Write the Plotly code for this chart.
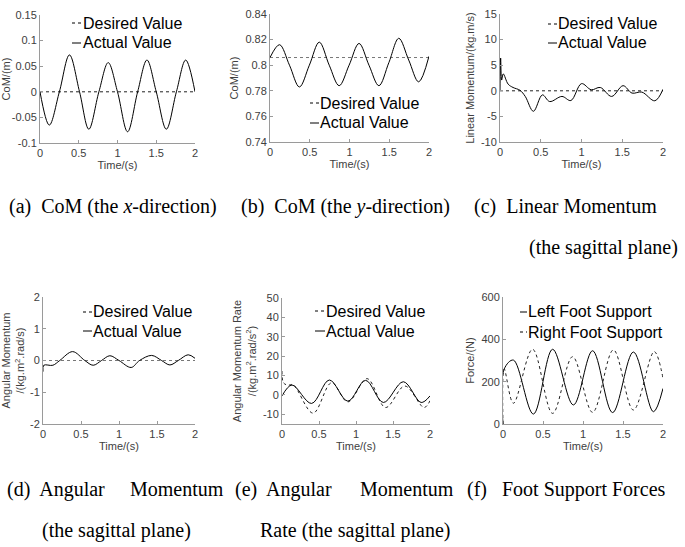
import plotly.graph_objects as go

# ---- data ----
t_a = [0, 0.12, 0.25, 0.38, 0.51, 0.63, 0.76, 0.88, 1.0, 1.13, 1.26, 1.38, 1.5, 1.63, 1.76, 1.88, 2.0]
com_x_actual = [0, -0.065, 0, 0.072, 0, -0.073, 0, 0.057, 0, -0.078, 0, 0.062, 0, -0.073, 0, 0.062, 0]
com_x_desired = [0, 0]

t_b = [0, 0.12, 0.245, 0.37, 0.495, 0.62, 0.745, 0.87, 0.995, 1.12, 1.245, 1.37, 1.495, 1.62, 1.745, 1.87, 2.0]
com_y_actual = [0.806, 0.816, 0.8, 0.783, 0.8, 0.818, 0.8, 0.784, 0.8, 0.817, 0.8, 0.784, 0.802, 0.821, 0.804, 0.787, 0.807]
com_y_desired = [0.806, 0.806]

t_c = [0, 0.008, 0.02, 0.04, 0.10, 0.16, 0.245, 0.31, 0.41, 0.52, 0.61, 0.76, 0.87, 1.0, 1.12, 1.23,
       1.37, 1.51, 1.62, 1.74, 1.90, 2.0]
lin_mom_actual = [0, 6.4, 2.1, 3.3, 1.3, 0.65, 0.1, -1.1, -4.0, -0.8, -2.1, -1.1, -1.9, 1.4, 0.2, 0.65,
                  -1.1, 1.0, -0.45, -0.25, -1.95, 0.3]
lin_mom_desired = [0, 0]

t_d = [0, 0.01, 0.13, 0.22, 0.39, 0.55, 0.66, 0.77, 0.88, 1.0, 1.16, 1.27, 1.43, 1.56, 1.67, 1.78, 1.91, 2.0]
ang_mom_actual = [-0.35, -0.15, -0.15, 0, 0.28, 0, -0.15, 0, 0.15, 0, -0.22, 0, 0.16, 0, -0.14, 0, 0.18, 0.07]
ang_mom_desired = [0, 0]

t_e_act = [0, 0.135, 0.40, 0.64, 0.89, 1.13, 1.37, 1.64, 1.88, 2.0]
ang_rate_actual = [-0.5, 5.1, -4.4, 7.7, -3.2, 7.5, -3.9, 6.8, -3.9, -0.5]
t_e_des = [0, 0.02, 0.08, 0.15, 0.42, 0.67, 0.89, 1.15, 1.40, 1.66, 1.92, 2.0]
ang_rate_desired = [12.3, 6.3, 5.0, 5.3, -9.4, 6.3, -3.6, 8.4, -6.5, 4.6, -6.5, -3.0]

t_f_left = [0, 0.015, 0.13, 0.38, 0.62, 0.88, 1.12, 1.37, 1.63, 1.88, 2.0]
left_force = [0, 260, 302, 47, 353, 90, 346, 54, 340, 58, 168]
t_f_right = [0, 0.015, 0.13, 0.37, 0.62, 0.87, 1.12, 1.38, 1.63, 1.89, 2.0]
right_force = [0, 260, 98, 353, 50, 318, 55, 350, 66, 342, 216]

t_span = [0, 2]
x_ticks = [0, 0.5, 1, 1.5, 2]
x_ticktext = ["0", "0.5", "1", "1.5", "2"]

W, H = 685, 547

def px(x):
    return x / W

def py(y):
    return 1 - y / H

AXC = "#9a9a9a"
TICKFONT = dict(family="Liberation Sans, Arial", size=11, color="#404040")

def xaxis(x0, x1, anchor, title):
    return dict(domain=[px(x0), px(x1)], anchor=anchor, range=[0, 2], automargin=False,
                tickvals=x_ticks, ticktext=x_ticktext,
                showline=True, linecolor=AXC, linewidth=1, mirror=False,
                ticks="inside", ticklen=3, tickcolor=AXC,
                showgrid=False, zeroline=False, tickfont=TICKFONT,
                title=dict(text=title, font=TICKFONT, standoff=3))

def yaxis(y0, y1, anchor, rng, vals, texts, title):
    return dict(domain=[py(y1), py(y0)], anchor=anchor, range=rng, automargin=False,
                tickvals=vals, ticktext=texts,
                showline=True, linecolor=AXC, linewidth=1, mirror=False,
                ticks="inside", ticklen=3, tickcolor=AXC,
                showgrid=False, zeroline=False, tickfont=TICKFONT,
                title=dict(text=title, font=TICKFONT, standoff=4))

fig = go.Figure()

def add(x, y, ax, dash="solid", color="black"):
    fig.add_trace(go.Scatter(x=x, y=y, mode="lines", xaxis="x" + ax, yaxis="y" + ax,
                             line=dict(color=color, width=1, dash=dash, shape="spline", smoothing=1.0),
                             showlegend=False, hoverinfo="skip"))

add(t_span, com_x_desired, "", "dot", "#222")
add(t_a, com_x_actual, "")
add(t_span, com_y_desired, "2", "dot", "#777")
add(t_b, com_y_actual, "2")
add(t_span, lin_mom_desired, "3", "dot", "#222")
add(t_c, lin_mom_actual, "3")
add(t_span, ang_mom_desired, "4", "dot", "#777")
add(t_d, ang_mom_actual, "4")
add(t_e_des, ang_rate_desired, "5", "dot", "#222")
add(t_e_act, ang_rate_actual, "5")
add(t_f_left, left_force, "6")
add(t_f_right, right_force, "6", "dot", "#222")

layout = dict(
    width=W, height=H, margin=dict(l=0, r=0, t=0, b=0, autoexpand=False),
    paper_bgcolor="white", plot_bgcolor="white", showlegend=False,
    xaxis=xaxis(40, 195, "y", "Time/(s)"),
    yaxis=yaxis(15, 143, "x", [-0.1, 0.15], [-0.1, -0.05, 0, 0.05, 0.1, 0.15],
                ["-0.1", "-0.05", "0", "0.05", "0.1", "0.15"], "CoM/(m)"),
    xaxis2=xaxis(270, 429, "y2", "Time/(s)"),
    yaxis2=yaxis(14, 142, "x2", [0.74, 0.84], [0.74, 0.76, 0.78, 0.8, 0.82, 0.84],
                 ["0.74", "0.76", "0.78", "0.8", "0.82", "0.84"], "CoM/(m)"),
    xaxis3=xaxis(500, 663, "y3", "Time/(s)"),
    yaxis3=yaxis(14, 142, "x3", [-10, 15], [-10, -5, 0, 5, 10, 15],
                 ["-10", "-5", "0", "5", "10", "15"], "Linear Momentum/(kg.m/s)"),
    xaxis4=xaxis(43, 195, "y4", "Time/(s)"),
    yaxis4=yaxis(297, 424, "x4", [-2, 2], [-2, -1, 0, 1, 2],
                 ["-2", "-1", "0", "1", "2"], "Angular Momentum<br>/(kg.m<sup>2</sup>.rad/s)"),
    xaxis5=xaxis(282, 430, "y5", "Time/(s)"),
    yaxis5=yaxis(298, 424, "x5", [-15, 50], [-10, 0, 10, 20, 30, 40, 50],
                 ["-10", "0", "10", "20", "30", "40", "50"],
                 "Angular Momentum Rate<br>/(kg.m<sup>2</sup>.rad/s<sup>2</sup>)"),
    xaxis6=xaxis(503, 663, "y6", "Time/(s)"),
    yaxis6=yaxis(297, 424, "x6", [0, 600], [0, 200, 400, 600],
                 ["0", "200", "400", "600"], "Force/(N)"),
)
fig.update_layout(**layout)

# legend-like labels (short line sample + text), as in the MATLAB figure
LEGFONT = dict(family="Liberation Sans, Arial", size=16, color="black")
legends = [
    # (sample x0, sample x1, text x, y first, y second, first label, first dash, second label, second dash)
    (72, 81, 81, 23, 43, "Desired Value", "dot", "Actual Value", "solid"),
    (310, 319, 318, 103, 123, "Desired Value", "dot", "Actual Value", "solid"),
    (548, 557, 556, 24, 43, "Desired Value", "dot", "Actual Value", "solid"),
    (83, 92, 91, 312, 331, "Desired Value", "dot", "Actual Value", "solid"),
    (315, 325, 324, 311, 331, "Desired Value", "dot", "Actual Value", "solid"),
    (520, 527, 526, 312, 332, "Left Foot Support", "solid", "Right Foot Support", "dot"),
]
for sx0, sx1, tx, y1, y2, l1, d1, l2, d2 in legends:
    for yy, lab, dsh in ((y1, l1, d1), (y2, l2, d2)):
        fig.add_shape(type="line", xref="paper", yref="paper",
                      x0=px(sx0), x1=px(sx1), y0=py(yy), y1=py(yy),
                      line=dict(color="black", width=1, dash=dsh))
        fig.add_annotation(x=px(tx), y=py(yy), xref="paper", yref="paper", text=lab,
                           showarrow=False, xanchor="left", yanchor="middle", font=LEGFONT)

# captions
CAPFONT = dict(family="Liberation Serif, Times New Roman", size=20, color="black")
captions = [
    (7, 207, "left", "(a)&nbsp; CoM (the <i>x</i>-direction)"),
    (239, 207, "left", "(b)&nbsp; CoM (the <i>y</i>-direction)"),
    (472, 207, "left", "(c)&nbsp; Linear Momentum"),
    (527, 247, "left", "(the sagittal plane)"),
    (5, 489, "left", "(d)&nbsp; Angular"),
    (226, 489, "right", "Momentum"),
    (40, 530, "left", "(the sagittal plane)"),
    (233, 489, "left", "(e)&nbsp; Angular"),
    (456, 489, "right", "Momentum"),
    (258, 530, "left", "Rate (the sagittal plane)"),
    (465, 489, "left", "(f)&nbsp;&nbsp; Foot Support Forces"),
]
for cx, cy, anc, txt in captions:
    fig.add_annotation(x=px(cx), y=py(cy), xref="paper", yref="paper", text=txt,
                       showarrow=False, xanchor=anc, yanchor="middle", font=CAPFONT)

fig.write_html("out.html", config={"displayModeBar": False},
               post_script="document.body.style.margin='0';")
